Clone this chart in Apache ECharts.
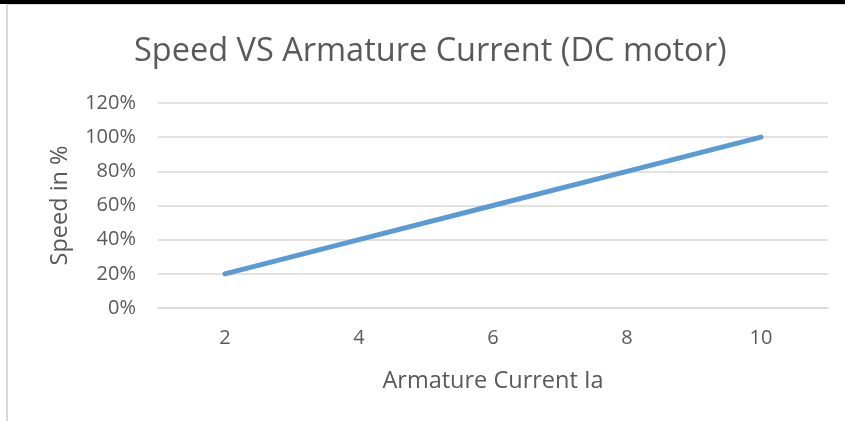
<!DOCTYPE html>
<html><head><meta charset="utf-8">
<script src="https://cdn.jsdelivr.net/npm/echarts@6/dist/echarts.min.js"></script>
<style>html,body{margin:0;padding:0;background:#fff}#c{width:845px;height:421px}</style>
</head><body><div id="c"></div>
<script>
var categories = ['2', '4', '6', '8', '10'];
var speedValues = [0.2, 0.4, 0.6, 0.8, 1.0];
var yTicks = { min: 0, max: 1.2, interval: 0.2 };
var titleText = 'Speed VS Armature Current (DC motor)';
var xName = 'Armature Current Ia';
var yName = 'Speed in %';

var font = '"Open Sans", "Noto Sans", sans-serif';
var chart = echarts.init(document.getElementById('c'), null, {renderer: 'canvas'});
chart.setOption({
  animation: false,
  backgroundColor: '#fff',
  graphic: [
    {type: 'rect', shape: {x: 0, y: 0, width: 845, height: 4}, style: {fill: '#000'}},
    {type: 'line', shape: {x1: 7, y1: 4.5, x2: 845, y2: 4.5}, style: {stroke: '#d9d9d9', lineWidth: 1}},
    {type: 'line', shape: {x1: 7, y1: 4, x2: 7, y2: 421}, style: {stroke: '#d9d9d9', lineWidth: 2}}
  ],
  title: {
    text: titleText, left: 129, top: 30,
    textStyle: {fontFamily: font, fontSize: 32.5, fontWeight: 'normal', color: '#595959'}
  },
  grid: {left: 158, right: 17, top: 103, bottom: 113, containLabel: false},
  xAxis: {
    type: 'category', data: categories, boundaryGap: true,
    name: xName, nameLocation: 'middle', nameGap: 61,
    nameTextStyle: {fontFamily: font, fontSize: 23.5, color: '#595959'},
    axisLine: {show: true, lineStyle: {color: '#d9d9d9', width: 1.5}},
    axisTick: {show: false},
    axisLabel: {fontFamily: font, fontSize: 20, color: '#595959', margin: 20}
  },
  yAxis: {
    type: 'value', min: yTicks.min, max: yTicks.max, interval: yTicks.interval,
    name: yName, nameLocation: 'middle', nameGap: 86, nameRotate: 90,
    nameTextStyle: {fontFamily: font, fontSize: 23.5, color: '#595959'},
    axisLine: {show: false}, axisTick: {show: false},
    axisLabel: {fontFamily: font, fontSize: 20, color: '#595959', margin: 22,
      formatter: function (v) { return Math.round(v * 100) + '%'; }},
    splitLine: {lineStyle: {color: '#d9d9d9', width: 1.5}}
  },
  series: [{
    type: 'line', data: speedValues, showSymbol: false, symbol: 'none',
    lineStyle: {color: '#5b9bd5', width: 5, cap: 'round'}
  }]
});
</script></body></html>
